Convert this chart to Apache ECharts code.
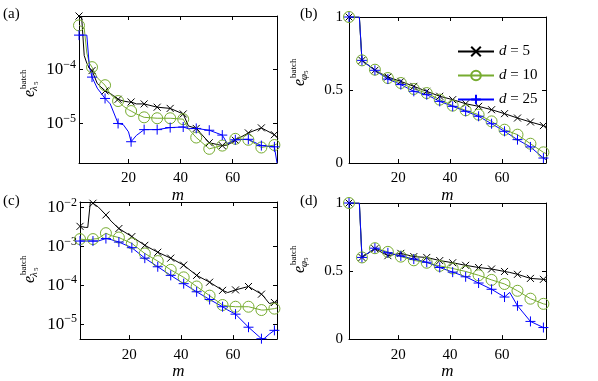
<!DOCTYPE html>
<html>
<head>
<meta charset="utf-8">
<script src="https://cdn.jsdelivr.net/npm/echarts@6/dist/echarts.min.js"></script>
<style>
  html, body { margin: 0; padding: 0; background: #fff; }
  #chart { width: 598px; height: 381px; }
</style>
</head>
<body>
<div id="chart"></div>
<script>
const FONT = '"Liberation Serif", "DejaVu Serif", serif';
const INK = '#000000';
const BLACK = '#000000';
const GREEN = '#77AC30';
const BLUE = '#0000FF';

const X_TICKS = [20, 40, 60];
const LIN_TICKS = [0, 0.5, 1];
const NAMES = ['d5', 'd10', 'd25'];
const LEGEND_TEXT = { d5: '{i|d} = 5', d10: '{i|d} = 10', d25: '{i|d} = 25' };

// (a) e_lambda5, log scale
const M_A = [1, 2, 3, 4, 5, 6, 8, 11, 13, 16, 18, 20, 21, 23, 26, 31, 36, 41, 43, 46, 51, 56, 58, 61, 66, 71, 76, 77];
const A_D5 = [9.7e-4, 9.5e-4, 1.8e-4, 1.3e-4, 1.05e-4, 9.5e-5, 5.5e-5, 4.0e-5, 3.6e-5, 2.8e-5, 2.6e-5, 2.5e-5, 2.5e-5, 2.3e-5, 2.3e-5, 2.0e-5, 1.9e-5, 1.5e-5, 9.0e-6, 8.1e-6, 4.4e-6, 3.9e-6, 4.0e-6, 4.9e-6, 6.7e-6, 8.3e-6, 6.2e-6, 5.5e-6];
const A_D10 = [6.5e-4, 6.2e-4, 5.8e-4, 2.0e-4, 1.3e-4, 1.1e-4, 7.0e-5, 5.1e-5, 3.5e-5, 2.6e-5, 2.1e-5, 1.8e-5, 1.7e-5, 1.5e-5, 1.3e-5, 1.25e-5, 1.25e-5, 1.2e-5, 8.0e-6, 5.5e-6, 3.4e-6, 3.9e-6, 4.3e-6, 5.2e-6, 5.0e-6, 3.6e-6, 4.0e-6, 4.2e-6];
const A_D25 = [4.3e-4, 4.3e-4, 4.3e-4, 4.3e-4, 1.1e-4, 7.2e-5, 4.5e-5, 2.9e-5, 2.3e-5, 1.0e-5, 9.5e-6, 7.0e-6, 4.6e-6, 6.0e-6, 7.7e-6, 7.7e-6, 8.4e-6, 8.6e-6, 8.0e-6, 8.1e-6, 7.5e-6, 6.1e-6, 4.2e-6, 5.0e-6, 5.1e-6, 3.9e-6, 3.7e-6, 1.86e-6];

// (b) e_phi5
const M_B = [1, 5, 6, 11, 16, 21, 26, 31, 36, 41, 46, 51, 56, 61, 66, 71, 76, 77];
const B_D5 = [1, 1, 0.703, 0.635, 0.589, 0.559, 0.525, 0.491, 0.457, 0.434, 0.406, 0.388, 0.365, 0.338, 0.308, 0.281, 0.256, 0.25];
const B_D10 = [1, 1, 0.703, 0.639, 0.582, 0.548, 0.507, 0.479, 0.434, 0.393, 0.361, 0.331, 0.285, 0.228, 0.194, 0.132, 0.073, 0.065];
const B_D25 = [1, 1, 0.703, 0.635, 0.575, 0.537, 0.491, 0.468, 0.422, 0.388, 0.354, 0.320, 0.269, 0.217, 0.160, 0.110, 0.034, 0.023];

// (c) e_lambda5, log scale
const M_C = [1, 3, 4, 5, 6, 8, 11, 13, 16, 21, 26, 31, 36, 41, 46, 51, 56, 58, 61, 66, 71, 72, 74, 76, 77];
const C_D5 = [3.3e-3, 3.1e-3, 3.1e-3, 1.4e-2, 1.3e-2, 1.05e-2, 6.5e-3, 4.5e-3, 2.9e-3, 1.8e-3, 1.07e-3, 7.1e-4, 5.0e-4, 3.3e-4, 1.8e-4, 1.2e-4, 7.4e-5, 6.5e-5, 7.6e-5, 9.3e-5, 5.9e-5, 5.0e-5, 3.4e-5, 3.6e-5, 3.7e-5];
const C_D10 = [1.55e-3, 1.5e-3, 1.5e-3, 1.5e-3, 1.55e-3, 1.6e-3, 2.2e-3, 1.9e-3, 1.7e-3, 1.2e-3, 6.6e-4, 4.2e-4, 2.5e-4, 1.6e-4, 9.3e-5, 5.4e-5, 3.1e-5, 2.9e-5, 2.8e-5, 2.8e-5, 2.3e-5, 2.3e-5, 2.4e-5, 2.5e-5, 2.6e-5];
const C_D25 = [1.38e-3, 1.38e-3, 1.38e-3, 1.38e-3, 1.38e-3, 1.38e-3, 1.6e-3, 1.5e-3, 1.3e-3, 9.3e-4, 5.0e-4, 3.0e-4, 1.8e-4, 1.1e-4, 6.8e-5, 4.3e-5, 2.8e-5, 2.3e-5, 1.8e-5, 8.3e-6, 4.2e-6, 4.2e-6, 5.5e-6, 6.9e-6, 6.9e-6];

// (d) e_phi5
const M_D = [1, 5, 6, 11, 16, 21, 26, 31, 36, 41, 46, 51, 56, 61, 63, 66, 71, 76, 77];
const D_D5 = [1, 1, 0.60, 0.664, 0.613, 0.630, 0.606, 0.600, 0.577, 0.561, 0.542, 0.526, 0.515, 0.497, 0.490, 0.476, 0.446, 0.439, 0.435];
const D_D10 = [1, 1, 0.60, 0.668, 0.641, 0.606, 0.579, 0.561, 0.538, 0.519, 0.497, 0.469, 0.435, 0.405, 0.385, 0.355, 0.297, 0.259, 0.255];
const D_D25 = [1, 1, 0.60, 0.668, 0.634, 0.611, 0.588, 0.565, 0.526, 0.492, 0.458, 0.412, 0.366, 0.309, 0.343, 0.245, 0.130, 0.085, 0.083];

const SYM_X = 'path://M0,0L10,10M0,10L10,0';
const SYM_PLUS = 'path://M5,0L5,10M0,5L10,5';
const STYLES = {
  d5: { color: BLACK, symbol: SYM_X, size: 7 },
  d10: { color: GREEN, symbol: 'circle', size: 11 },
  d25: { color: BLUE, symbol: SYM_PLUS, size: 10 },
};

const chart = echarts.init(document.getElementById('chart'), null, { renderer: 'canvas' });

const axisLineStyle = { color: INK, width: 1 };

function logLabel(v) {
  const l = Math.log10(v);
  const e = Math.round(l);
  if (Math.abs(l - e) > 1e-6) return '';
  return `{b|10}{s|−${-e}}`;
}

function xAxes(g) {
  const base = {
    type: 'value', gridIndex: g, min: 1, max: 77,
    axisLine: { onZero: false, lineStyle: axisLineStyle },
    axisTick: { inside: true, length: 4, lineStyle: axisLineStyle },
    splitLine: { show: false },
  };
  return [
    {
      ...base, position: 'bottom',
      axisLabel: { color: INK, fontFamily: FONT, fontSize: 15, margin: 8, formatter: (v) => (X_TICKS.includes(v) ? String(v) : '') },
      name: 'm', nameLocation: 'middle', nameGap: 17,
      nameTextStyle: { color: INK, fontFamily: FONT, fontSize: 17, fontStyle: 'italic' },
    },
    { ...base, position: 'top', axisLabel: { show: false } },
  ];
}

function yAxes(g, isLog, min, max) {
  const base = {
    gridIndex: g,
    axisLine: { onZero: false, lineStyle: axisLineStyle },
    axisTick: { inside: true, length: 4, lineStyle: axisLineStyle },
    splitLine: { show: false },
  };
  const scale = isLog
    ? { type: 'log', logBase: 10, min, max }
    : { type: 'value', min: 0, max: 1, interval: 0.5 };
  const label = isLog
    ? {
        margin: 3, formatter: logLabel,
        rich: {
          b: { color: INK, fontFamily: FONT, fontSize: 17 },
          s: { color: INK, fontFamily: FONT, fontSize: 12, padding: [0, 0, 10, 0] },
        },
      }
    : { margin: 6, color: INK, fontFamily: FONT, fontSize: 15, formatter: (v) => (LIN_TICKS.includes(v) ? String(v) : '') };
  return [
    { ...base, ...scale, position: 'left', axisLabel: label },
    { ...base, ...scale, position: 'right', axisLabel: { show: false } },
  ];
}

function mkSeries(name, g, M, V) {
  const st = STYLES[name];
  const data = M.map((m, i) => ((m - 1) % 5 === 0 ? [m, V[i]] : { value: [m, V[i]], symbol: 'none' }));
  return {
    type: 'line', name, xAxisIndex: 2 * g, yAxisIndex: 2 * g, data,
    symbol: st.symbol, symbolSize: st.size, symbolKeepAspect: true,
    showSymbol: true, showAllSymbol: true,
    lineStyle: { color: st.color, width: 1 },
    itemStyle: { color: st.symbol === 'circle' ? 'rgba(0,0,0,0)' : st.color, borderColor: st.color, borderWidth: 1 },
    emphasis: { disabled: true },
    animation: false,
  };
}

function yTitle(x0, y0, subChar) {
  const t = (text, x, y, size, italic) => ({
    type: 'text', x, y,
    style: {
      text, fill: INK, font: `${italic ? 'italic ' : ''}${size}px ${FONT}`,
      textAlign: 'left', textVerticalAlign: 'middle', align: 'left', verticalAlign: 'middle',
    },
  });
  return {
    type: 'group', x: x0, y: y0, rotation: Math.PI / 2,
    children: [
      t('e', 0, 0, 16, true),
      t('batch', 8, -6, 9, false),
      t(subChar, 6, 4, 11, true),
      t('5', 12, 6, 7, false),
    ],
  };
}

function letter(text, x, y) {
  return {
    type: 'text', x, y,
    style: { text, fill: INK, font: `15px ${FONT}`, textAlign: 'left', textVerticalAlign: 'middle', align: 'left', verticalAlign: 'middle' },
  };
}

const grids = [
  { left: 79, top: 16, width: 198, height: 147 },
  { left: 349, top: 17, width: 197, height: 146 },
  { left: 80, top: 202, width: 197, height: 145 },
  { left: 349, top: 203, width: 197, height: 145 },
];

chart.setOption({
  backgroundColor: '#fff',
  animation: false,
  grid: grids,
  xAxis: [...xAxes(0), ...xAxes(1), ...xAxes(2), ...xAxes(3)],
  yAxis: [
    ...yAxes(0, true, 1.86e-6, 9.7e-4),
    ...yAxes(1, false),
    ...yAxes(2, true, 4.1e-6, 1.4e-2),
    ...yAxes(3, false),
  ],
  legend: {
    data: NAMES, orient: 'vertical', left: 452, top: 39,
    itemWidth: 36, itemHeight: 12, itemGap: 9, selectedMode: false,
    formatter: (n) => LEGEND_TEXT[n],
    textStyle: { color: INK, fontFamily: FONT, fontSize: 15, rich: { i: { fontStyle: 'italic', fontFamily: FONT, fontSize: 15, color: INK } } },
  },
  graphic: [
    letter('(a)', 3, 14), letter('(b)', 300, 14), letter('(c)', 3, 201), letter('(d)', 300, 201),
    yTitle(30, 97, 'λ'), yTitle(300, 86, 'φ'), yTitle(30, 283, 'λ'), yTitle(300, 273, 'φ'),
  ],
  series: [
    mkSeries('d5', 0, M_A, A_D5), mkSeries('d10', 0, M_A, A_D10), mkSeries('d25', 0, M_A, A_D25),
    mkSeries('d5', 1, M_B, B_D5), mkSeries('d10', 1, M_B, B_D10), mkSeries('d25', 1, M_B, B_D25),
    mkSeries('d5', 2, M_C, C_D5), mkSeries('d10', 2, M_C, C_D10), mkSeries('d25', 2, M_C, C_D25),
    mkSeries('d5', 3, M_D, D_D5), mkSeries('d10', 3, M_D, D_D10), mkSeries('d25', 3, M_D, D_D25),
  ],
});
</script>
</body>
</html>
